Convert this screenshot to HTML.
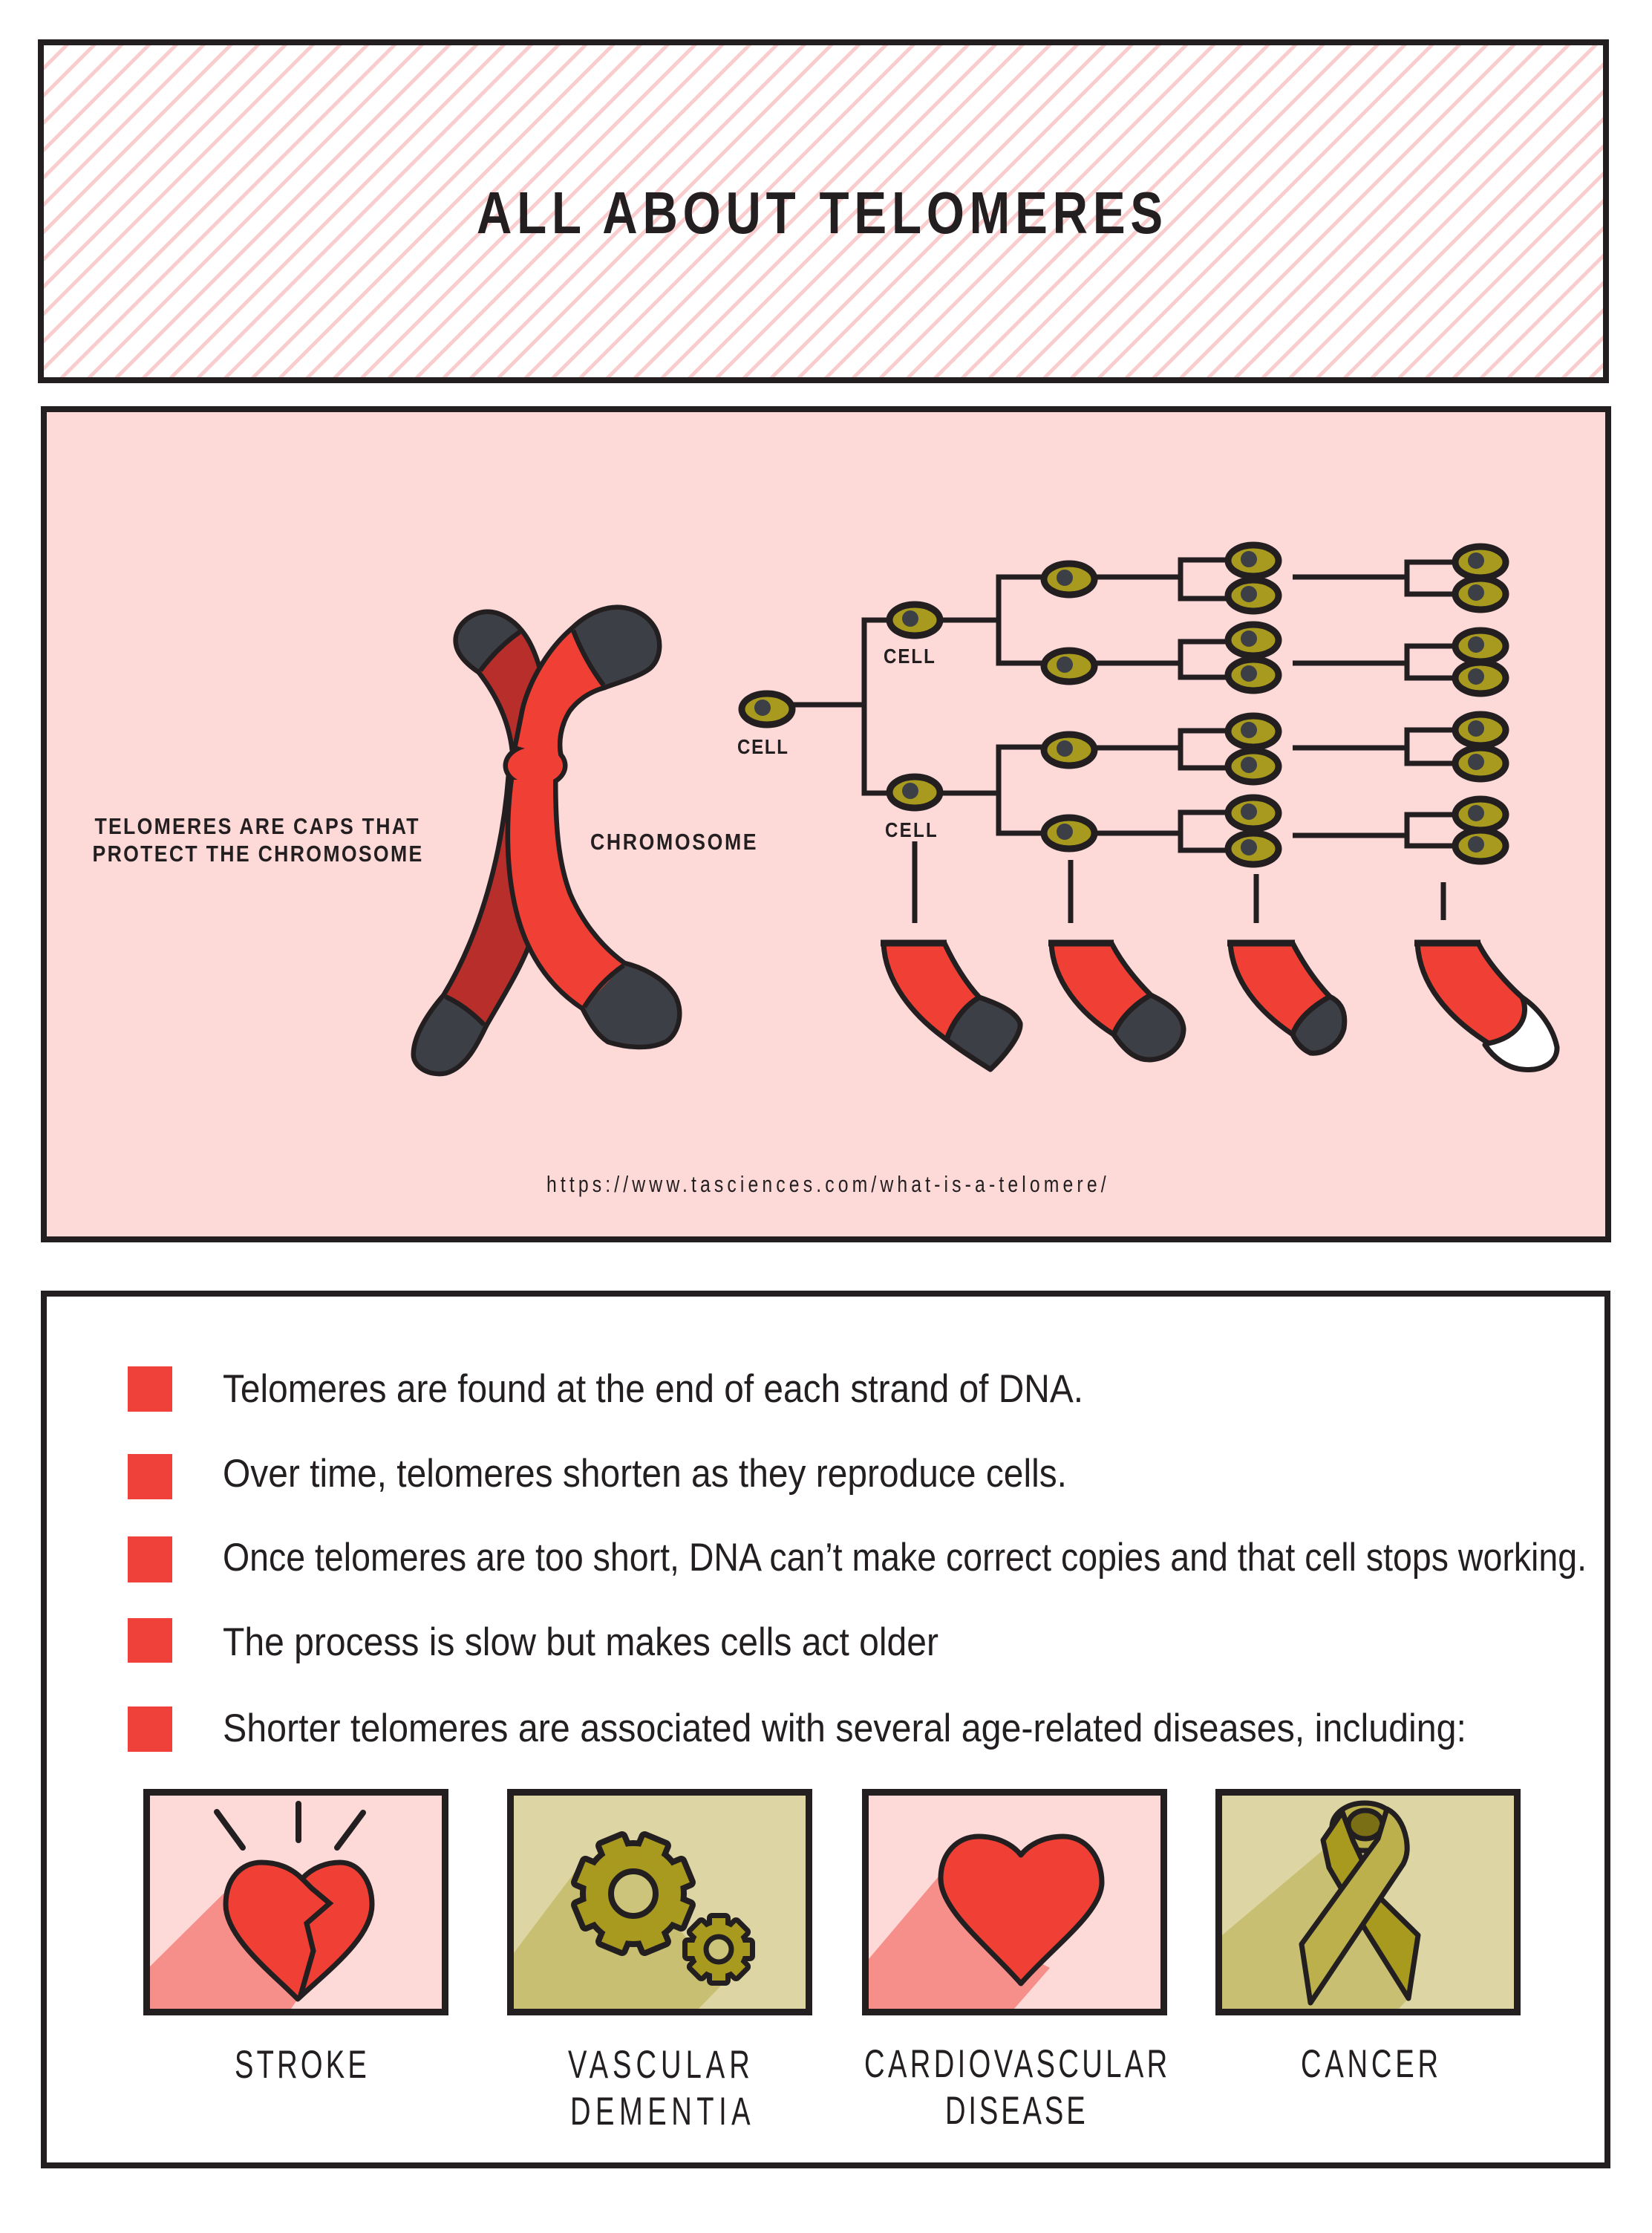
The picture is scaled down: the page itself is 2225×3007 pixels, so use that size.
<!DOCTYPE html>
<html><head><meta charset="utf-8"><style>
html,body{margin:0;padding:0;background:#fff;}
svg{display:block;}
text{font-family:"Liberation Sans",Arial,sans-serif;fill:#231f20;}
</style></head><body>
<svg width="2225" height="3007" viewBox="0 0 2225 3007" xmlns="http://www.w3.org/2000/svg">
<defs>
<pattern id="stripes" patternUnits="userSpaceOnUse" width="26" height="26" patternTransform="rotate(45)">
<rect width="26" height="26" fill="#fff"/><rect width="5" height="26" fill="#f9cdcd"/>
</pattern>
<g id="cell"><ellipse rx="34" ry="21" fill="#a8991f" stroke="#231f20" stroke-width="9"/><circle cx="-6" cy="-2" r="11" fill="#3c3f46"/></g>
<g id="gbig"><circle r="64"/>
<rect x="-15" y="-76" width="30" height="30" transform="rotate(22.5)"/><rect x="-15" y="-76" width="30" height="30" transform="rotate(67.5)"/>
<rect x="-15" y="-76" width="30" height="30" transform="rotate(112.5)"/><rect x="-15" y="-76" width="30" height="30" transform="rotate(157.5)"/>
<rect x="-15" y="-76" width="30" height="30" transform="rotate(202.5)"/><rect x="-15" y="-76" width="30" height="30" transform="rotate(247.5)"/>
<rect x="-15" y="-76" width="30" height="30" transform="rotate(292.5)"/><rect x="-15" y="-76" width="30" height="30" transform="rotate(337.5)"/>
</g>
<g id="gsmall"><circle r="34"/>
<rect x="-9" y="-42" width="18" height="16" transform="rotate(0)"/><rect x="-9" y="-42" width="18" height="16" transform="rotate(45)"/>
<rect x="-9" y="-42" width="18" height="16" transform="rotate(90)"/><rect x="-9" y="-42" width="18" height="16" transform="rotate(135)"/>
<rect x="-9" y="-42" width="18" height="16" transform="rotate(180)"/><rect x="-9" y="-42" width="18" height="16" transform="rotate(225)"/>
<rect x="-9" y="-42" width="18" height="16" transform="rotate(270)"/><rect x="-9" y="-42" width="18" height="16" transform="rotate(315)"/>
</g>
</defs>

<!-- HEADER -->
<rect x="55" y="57" width="2108" height="455" fill="url(#stripes)" stroke="#231f20" stroke-width="8"/>
<text transform="translate(642,314) scale(0.82,1)" font-size="80" font-weight="bold" textLength="1127" lengthAdjust="spacing">ALL ABOUT TELOMERES</text>

<!-- PINK BOX -->
<rect x="59" y="551" width="2107" height="1118" fill="#fdd9d8" stroke="#231f20" stroke-width="8"/>

<text transform="translate(127.5,1123) scale(0.86,1)" font-size="31" font-weight="bold" textLength="507" lengthAdjust="spacing">TELOMERES ARE CAPS THAT</text>
<text transform="translate(124.5,1160) scale(0.86,1)" font-size="31" font-weight="bold" textLength="516" lengthAdjust="spacing">PROTECT THE CHROMOSOME</text>
<text transform="translate(795,1144) scale(0.86,1)" font-size="31" font-weight="bold" textLength="260" lengthAdjust="spacing">CHROMOSOME</text>

<!-- chromosome: left chromatid -->
<g stroke="#231f20" stroke-width="13" fill="#231f20" stroke-linejoin="round">
<path d="M647,903 C668,930 688,965 693,1010 L740,1010 C738,950 725,880 700,851 Z"/>
<path d="M688,1045 C680,1150 650,1260 600,1342 L652,1380 C675,1340 700,1300 712,1265 C722,1200 730,1120 732,1045 Z"/>
<path d="M647,903 L700,851 C690,838 672,826 655,827 C635,828 615,845 617,865 C618,880 632,893 647,903 Z"/>
<path d="M600,1342 L652,1380 C640,1405 625,1435 600,1442 C580,1446 560,1435 560,1420 C560,1395 580,1365 600,1342 Z"/>
</g>
<path d="M647,903 C668,930 688,965 693,1010 L740,1010 C738,950 725,880 700,851 Z" fill="#b72e2b"/>
<path d="M688,1045 C680,1150 650,1260 600,1342 L652,1380 C675,1340 700,1300 712,1265 C722,1200 730,1120 732,1045 Z" fill="#b72e2b"/>
<path d="M647,903 L700,851 C690,838 672,826 655,827 C635,828 615,845 617,865 C618,880 632,893 647,903 Z" fill="#3c3f46"/>
<path d="M600,1342 L652,1380 C640,1405 625,1435 600,1442 C580,1446 560,1435 560,1420 C560,1395 580,1365 600,1342 Z" fill="#3c3f46"/>
<path d="M647,903 Q670,872 700,851 M600,1342 Q628,1355 652,1380" fill="none" stroke="#231f20" stroke-width="6.5"/>

<!-- right chromatid -->
<g stroke="#231f20" stroke-width="13" fill="#231f20" stroke-linejoin="round">
<path d="M772,849 C745,872 718,912 707,955 L697,1005 L753,1021 C748,1000 752,975 765,955 C778,938 795,928 813,923 Z"/>
<ellipse cx="721" cy="1031" rx="37" ry="25"/>
<path d="M692,1050 C683,1120 685,1200 710,1262 C728,1305 755,1335 787,1356 L840,1300 C805,1275 780,1240 765,1205 C748,1160 745,1110 745,1050 Z"/>
<path d="M772,849 L813,923 C835,915 860,908 873,898 C888,885 888,860 878,845 C865,825 840,818 820,822 C800,826 785,836 772,849 Z"/>
<path d="M787,1356 L840,1300 C862,1305 890,1318 905,1340 C918,1360 912,1390 895,1400 C875,1410 845,1408 820,1400 C805,1390 795,1372 787,1356 Z"/>
</g>
<g fill="#f03f35">
<path d="M772,849 C745,872 718,912 707,955 L697,1005 L753,1021 C748,1000 752,975 765,955 C778,938 795,928 813,923 Z"/>
<ellipse cx="721" cy="1031" rx="37" ry="25"/>
<path d="M692,1050 C683,1120 685,1200 710,1262 C728,1305 755,1335 787,1356 L840,1300 C805,1275 780,1240 765,1205 C748,1160 745,1110 745,1050 Z"/>
</g>
<path d="M772,849 L813,923 C835,915 860,908 873,898 C888,885 888,860 878,845 C865,825 840,818 820,822 C800,826 785,836 772,849 Z" fill="#3c3f46"/>
<path d="M787,1356 L840,1300 C862,1305 890,1318 905,1340 C918,1360 912,1390 895,1400 C875,1410 845,1408 820,1400 C805,1390 795,1372 787,1356 Z" fill="#3c3f46"/>
<path d="M772,849 Q788,890 813,923 M787,1356 Q808,1322 840,1300" fill="none" stroke="#231f20" stroke-width="6.5"/>

<!-- cell tree lines -->
<g stroke="#231f20" stroke-width="7" fill="none" stroke-linecap="butt">
<path d="M1068,949 H1167 M1164,831.5 V1071.5 M1164,835 H1205 M1164,1068 H1205"/>
<path d="M1262,835 H1348 M1345,773.5 V896.5 M1345,777 H1410 M1345,893 H1410"/>
<path d="M1262,1068 H1348 M1345,1002.5 V1125.5 M1345,1006 H1410 M1345,1122 H1410"/>
<path d="M1470,777 H1593 M1590,750.5 V809.5 M1590,754 H1660 M1590,806 H1660"/>
<path d="M1470,893 H1593 M1590,860.5 V915.5 M1590,864 H1660 M1590,912 H1660"/>
<path d="M1470,1007 H1593 M1590,980.5 V1037.5 M1590,984 H1660 M1590,1034 H1660"/>
<path d="M1470,1122 H1593 M1590,1090.5 V1148.5 M1590,1094 H1660 M1590,1145 H1660"/>
<path d="M1741,777 H1898 M1895,753.5 V803.5 M1895,757 H1965 M1895,800 H1965"/>
<path d="M1741,893 H1898 M1895,866.5 V916.5 M1895,870 H1965 M1895,913 H1965"/>
<path d="M1741,1007 H1898 M1895,979.5 V1031.5 M1895,983 H1965 M1895,1028 H1965"/>
<path d="M1741,1125 H1898 M1895,1093.5 V1142.5 M1895,1097 H1965 M1895,1139 H1965"/>
<path d="M1232,1133 V1243 M1442,1158 V1243 M1692,1177 V1243 M1944,1188 V1239"/>
</g>
<!-- cells -->
<use href="#cell" x="1033" y="955"/>
<use href="#cell" x="1232" y="835"/><use href="#cell" x="1232" y="1067"/>
<use href="#cell" x="1440" y="780"/><use href="#cell" x="1440" y="897"/><use href="#cell" x="1440" y="1010"/><use href="#cell" x="1440" y="1122"/>
<use href="#cell" x="1688" y="755"/><use href="#cell" x="1688" y="802"/><use href="#cell" x="1688" y="862"/><use href="#cell" x="1688" y="909"/>
<use href="#cell" x="1688" y="985"/><use href="#cell" x="1688" y="1032"/><use href="#cell" x="1688" y="1095"/><use href="#cell" x="1688" y="1143"/>
<use href="#cell" x="1994" y="757"/><use href="#cell" x="1994" y="800"/><use href="#cell" x="1994" y="870"/><use href="#cell" x="1994" y="913"/>
<use href="#cell" x="1994" y="983"/><use href="#cell" x="1994" y="1028"/><use href="#cell" x="1994" y="1097"/><use href="#cell" x="1994" y="1139"/>

<text transform="translate(993,1015) scale(0.86,1)" font-size="28" font-weight="bold" textLength="79" lengthAdjust="spacing">CELL</text>
<text transform="translate(1190,893) scale(0.86,1)" font-size="28" font-weight="bold" textLength="80" lengthAdjust="spacing">CELL</text>
<text transform="translate(1192,1127) scale(0.86,1)" font-size="28" font-weight="bold" textLength="81" lengthAdjust="spacing">CELL</text>

<!-- telomere ends -->
<g stroke="#231f20" stroke-width="7" stroke-linejoin="round">
<path d="M1190,1270 H1272 C1285,1298 1302,1325 1319,1343 C1298,1355 1282,1378 1275,1400 C1230,1368 1192,1322 1190,1270 Z" fill="#f03f35"/>
<path d="M1319,1343 C1345,1352 1368,1362 1374,1378 C1376,1395 1350,1425 1334,1440 C1310,1425 1290,1412 1275,1400 C1282,1378 1298,1355 1319,1343 Z" fill="#3c3f46"/>
<path d="M1416,1270 H1497 C1510,1295 1530,1320 1550,1340 C1528,1352 1508,1372 1500,1393 C1455,1365 1418,1320 1416,1270 Z" fill="#f03f35"/>
<path d="M1550,1340 C1575,1352 1592,1365 1594,1385 C1594,1408 1575,1425 1550,1427 C1530,1428 1515,1415 1500,1393 C1508,1372 1528,1352 1550,1340 Z" fill="#3c3f46"/>
<path d="M1657,1270 H1741 C1755,1297 1772,1322 1791,1342 C1768,1355 1748,1372 1741,1393 C1695,1362 1660,1320 1657,1270 Z" fill="#f03f35"/>
<path d="M1791,1342 C1808,1350 1813,1365 1810,1385 C1805,1405 1785,1420 1765,1418 C1752,1412 1745,1402 1741,1393 C1748,1372 1768,1355 1791,1342 Z" fill="#3c3f46"/>
<path d="M2050,1343 C2075,1360 2092,1385 2097,1410 C2098,1432 2075,1443 2050,1440 C2030,1438 2012,1425 2000,1407 Z" fill="#fff"/>
<path d="M1909,1270 H1991 C2005,1298 2030,1325 2050,1343 C2060,1365 2050,1395 2005,1405 C1950,1370 1912,1325 1909,1270 Z" fill="#f03f35"/>
</g>
<path d="M1186,1270 H1275 M1412,1270 H1500 M1653,1270 H1744 M1905,1270 H1994" stroke="#231f20" stroke-width="9"/>

<text transform="translate(736,1605) scale(0.8,1)" font-size="31" textLength="942" lengthAdjust="spacing">https://www.tasciences.com/what-is-a-telomere/</text>

<!-- WHITE BOX -->
<rect x="59" y="1742" width="2106" height="1174" fill="#fff" stroke="#231f20" stroke-width="8"/>
<g fill="#f0403a">
<rect x="172" y="1840" width="60" height="61"/>
<rect x="172" y="1958" width="60" height="61"/>
<rect x="172" y="2069" width="60" height="62"/>
<rect x="172" y="2179" width="60" height="60"/>
<rect x="172" y="2298" width="60" height="61"/>
</g>
<text x="300" y="1888" font-size="53" textLength="1159" lengthAdjust="spacingAndGlyphs">Telomeres are found at the end of each strand of DNA.</text>
<text x="300" y="2002" font-size="53" textLength="1137" lengthAdjust="spacingAndGlyphs">Over time, telomeres shorten as they reproduce cells.</text>
<text x="300" y="2115" font-size="53" textLength="1837" lengthAdjust="spacingAndGlyphs">Once telomeres are too short, DNA can’t make correct copies and that cell stops working.</text>
<text x="300" y="2229" font-size="53" textLength="964" lengthAdjust="spacingAndGlyphs">The process is slow but makes cells act older</text>
<text x="300" y="2345" font-size="53" textLength="1675" lengthAdjust="spacingAndGlyphs">Shorter telomeres are associated with several age-related diseases, including:</text>

<!-- ICON A: STROKE -->
<rect x="197.5" y="2413.5" width="402" height="296" fill="#fdd9d8"/>
<polygon points="304,2547 202,2648 202,2705 392,2705 401,2692 360,2640" fill="#f68f8a"/>
<path d="M401,2692 C370,2660 304,2610 304,2565 C304,2530 325,2508 352,2508 C378,2508 395,2518 407,2530 C420,2515 440,2508 458,2508 C485,2508 501,2535 501,2565 C501,2610 440,2655 401,2692 Z" fill="#f03f35" stroke="#231f20" stroke-width="7" stroke-linejoin="round"/>
<polyline points="407,2530 420,2543 444,2563 413,2590 422,2627 404,2690" fill="none" stroke="#231f20" stroke-width="7" stroke-linejoin="miter"/>
<path d="M292,2440 L327,2488 M402,2429 V2478 M489,2441 L454,2488" stroke="#231f20" stroke-width="8" stroke-linecap="round"/>
<rect x="197.5" y="2413.5" width="402" height="296" fill="none" stroke="#231f20" stroke-width="9"/>

<!-- ICON B: VASCULAR DEMENTIA -->
<rect x="687.5" y="2413.5" width="402" height="296" fill="#ddd6a4"/>
<polygon points="777,2517 692,2630 692,2705 941,2705 975,2670 900,2580" fill="#c8bf72"/>
<g transform="translate(853,2550)">
<use href="#gbig" fill="#231f20" stroke="#231f20" stroke-width="16" stroke-linejoin="round"/>
<use href="#gbig" fill="#a8991f"/>
<circle r="30" fill="#ccc47a" stroke="#231f20" stroke-width="8"/>
</g>
<g transform="translate(968,2625)">
<use href="#gsmall" fill="#231f20" stroke="#231f20" stroke-width="14" stroke-linejoin="round"/>
<use href="#gsmall" fill="#a8991f"/>
<circle r="17" fill="#ccc47a" stroke="#231f20" stroke-width="7"/>
</g>
<rect x="687.5" y="2413.5" width="402" height="296" fill="none" stroke="#231f20" stroke-width="9"/>

<!-- ICON C: CARDIOVASCULAR -->
<rect x="1165.5" y="2413.5" width="402" height="296" fill="#fdd9d8"/>
<polygon points="1270,2520 1170,2638 1170,2705 1366,2705 1414,2650 1320,2600" fill="#f68f8a"/>
<path d="M1375,2671 C1330,2620 1267,2572 1267,2530 C1267,2495 1290,2473 1318,2473 C1345,2473 1365,2485 1375,2498 C1385,2485 1405,2473 1432,2473 C1462,2473 1484,2500 1484,2535 C1484,2575 1420,2620 1375,2671 Z" fill="#f03f35" stroke="#231f20" stroke-width="7" stroke-linejoin="round"/>
<rect x="1165.5" y="2413.5" width="402" height="296" fill="none" stroke="#231f20" stroke-width="9"/>

<!-- ICON D: CANCER -->
<rect x="1641.5" y="2413.5" width="402" height="296" fill="#ddd6a4"/>
<polygon points="1781,2492 1646,2606 1646,2705 1884,2705 1897,2691 1820,2560" fill="#c8bf72"/>
<g stroke="#231f20" stroke-width="7" stroke-linejoin="round">
<ellipse cx="1838" cy="2460" rx="44" ry="32" fill="#bcb04c"/>
<ellipse cx="1839" cy="2457" rx="23" ry="19" fill="#7b6f16"/>
<polygon points="1782,2478 1808,2440 1822,2478 1858,2555 1910,2606 1897,2691 1840,2600 1790,2515" fill="#a8991f"/>
<path d="M1856,2476 L1753,2618 L1765,2697 L1890,2510 C1896,2498 1896,2488 1894,2476 C1890,2455 1880,2442 1868,2436 Z" fill="#bcb04c"/>
</g>
<rect x="1641.5" y="2413.5" width="402" height="296" fill="none" stroke="#231f20" stroke-width="9"/>

<!-- labels -->
<text transform="translate(316,2798) scale(0.72,1)" font-size="53" textLength="247" lengthAdjust="spacing">STROKE</text>
<text transform="translate(765,2798) scale(0.72,1)" font-size="53" textLength="340" lengthAdjust="spacing">VASCULAR</text>
<text transform="translate(768,2861) scale(0.72,1)" font-size="53" textLength="337" lengthAdjust="spacing">DEMENTIA</text>
<text transform="translate(1164,2797) scale(0.72,1)" font-size="53" textLength="567" lengthAdjust="spacing">CARDIOVASCULAR</text>
<text transform="translate(1273,2860) scale(0.72,1)" font-size="53" textLength="262" lengthAdjust="spacing">DISEASE</text>
<text transform="translate(1752,2797) scale(0.72,1)" font-size="53" textLength="257" lengthAdjust="spacing">CANCER</text>
</svg>
</body></html>
